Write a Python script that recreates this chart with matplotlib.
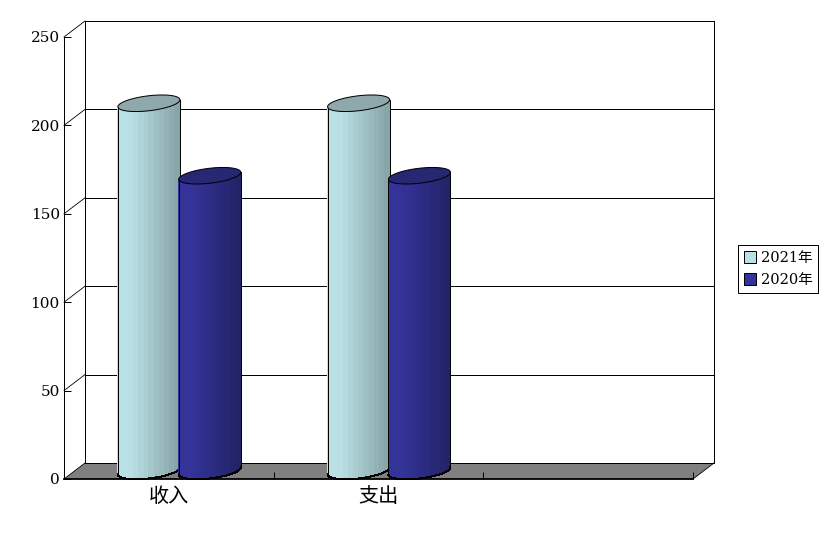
"""
plot.py
Pseudo-3D clustered cylinder chart, saved as out.png
"""

import numpy as np
import matplotlib
matplotlib.use("Agg")
import matplotlib.pyplot as plt
from matplotlib.patches import Patch, Polygon

plt.rcParams["font.family"] = ["DejaVu Serif", "Noto Sans CJK SC"]

# Data
categories = ["收入", "支出", ""]
series_names = ["2021年", "2020年"]
values_2021 = [208, 208]
values_2020 = [167, 167]
y_ticks = [0, 50, 100, 150, 200, 250]

# Scales (pixels per data unit)
W, H = 832, 537
LEFT, RIGHT, BOTTOM, TOP = 64, 693, 479, 37
sx = (RIGHT - LEFT) / len(categories)
sy = (BOTTOM - TOP) / y_ticks[-1]
DEPTH_X, DEPTH_Y = 21 / sx, 16 / sy

# Cylinder shape
half_w = 31 / sx
rise = 3.5 / sy
minor = 7.5 / sy
LIGHT = (np.array([185, 224, 228]), np.array([136, 165, 168]), "#8fa8ac", "#b9e0e4")
DARK = (np.array([51, 51, 153]), np.array([35, 35, 105]), "#272773", "#333399")
LW = 0.72

fig = plt.figure(figsize=(W / 100, H / 100), dpi=100)
ax = fig.add_axes([LEFT / W, 1 - BOTTOM / H, (RIGHT - LEFT) / W, (BOTTOM - TOP) / H])
ax.set_xlim(0, len(categories))
ax.set_ylim(0, y_ticks[-1])
ax.patch.set_visible(False)

line_kw = dict(color="black", lw=LW, clip_on=False, antialiased=False)

# Floor
ax.add_patch(Polygon([(0, 0), (DEPTH_X, DEPTH_Y), (3 + DEPTH_X, DEPTH_Y), (3, 0)],
                     closed=True, fc="#808080", ec="none", clip_on=False, zorder=1))
ax.plot([DEPTH_X, 3 + DEPTH_X], [DEPTH_Y, DEPTH_Y], zorder=1, **line_kw)
ax.plot([0, DEPTH_X], [0, DEPTH_Y], color="black", lw=0.6, clip_on=False, zorder=1)
ax.plot([3, 3 + DEPTH_X], [0, DEPTH_Y], color="black", lw=0.6, clip_on=False, zorder=1)

# Back wall, side wall
for v in y_ticks[1:]:
    ax.plot([DEPTH_X, 3 + DEPTH_X], [v + DEPTH_Y, v + DEPTH_Y], zorder=1, **line_kw)
    ax.plot([0, DEPTH_X], [v, v + DEPTH_Y], color="black", lw=0.6, clip_on=False, zorder=1)
ax.plot([DEPTH_X, DEPTH_X], [DEPTH_Y, y_ticks[-1] + DEPTH_Y], zorder=1, **line_kw)
ax.plot([3 + DEPTH_X, 3 + DEPTH_X], [DEPTH_Y, y_ticks[-1] + DEPTH_Y], zorder=1, **line_kw)


def cylinder(cx, value, colors, z):
    base, shadow, top_color, _ = colors
    cx = cx + DEPTH_X / 2
    y0, y1 = DEPTH_Y / 2, value + DEPTH_Y / 2
    t = np.linspace(np.pi, 2 * np.pi, 181)
    ex = cx + half_w * np.cos(t)
    low = y0 + rise * np.cos(t) + minor * np.sin(t)
    up = y1 + rise * np.cos(t)

    # shaded vertical bands, each painted over the one before it
    n = 12
    for i in range(n):
        frac = i / (n - 1)
        mix = max(0, (frac - 0.2) / 0.8)
        col = (base + (shadow - base) * mix) / 255
        m = ex >= cx - half_w + 2 * half_w * i / n - 1e-9
        pts = list(zip(ex[m], low[m])) + list(zip(ex[m][::-1], up[m][::-1]))
        ax.add_patch(Polygon(pts, closed=True, fc=col, ec="none", clip_on=False, zorder=z,
                             antialiased=False))

    # outline
    ax.plot(ex, low, zorder=z + 0.1, **line_kw)
    ax.plot([ex[0], ex[0]], [low[0], up[0]], zorder=z + 0.1, **line_kw)
    ax.plot([ex[-1], ex[-1]], [low[-1], up[-1]], zorder=z + 0.1, **line_kw)

    # top cap
    t = np.linspace(0, 2 * np.pi, 121)
    cap = np.column_stack([cx + half_w * np.cos(t), y1 + rise * np.cos(t) + minor * np.sin(t)])
    ax.add_patch(Polygon(cap, closed=True, fc=top_color, ec="black", lw=LW, clip_on=False, zorder=z + 0.2))


for i, (a, b) in enumerate(zip(values_2021, values_2020)):
    cylinder(i + 0.355, a, LIGHT, 3 + i * 2)
    cylinder(i + 0.645, b, DARK, 4 + i * 2)

# Axes
for side in ["top", "right"]:
    ax.spines[side].set_visible(False)
ax.spines["left"].set_linewidth(LW)
ax.spines["left"].set_zorder(2)
ax.spines["bottom"].set_linewidth(1.3)
ax.spines["bottom"].set_zorder(2)
ax.set_yticks(y_ticks)
ax.tick_params(axis="y", direction="in", length=5, width=LW, pad=3, labelsize=11)
ax.set_xticks([1, 2, 3])
ax.set_xticklabels([])
ax.tick_params(axis="x", which="major", direction="in", length=5, width=LW)
ax.set_xticks(np.arange(len(categories)) + 0.5, minor=True)
ax.set_xticklabels(categories, minor=True, fontsize=14.5)
ax.tick_params(axis="x", which="minor", length=0, pad=6)

# Legend
handles = [Patch(fc=LIGHT[3], ec="black", lw=LW, label=series_names[0]),
           Patch(fc=DARK[3], ec="black", lw=LW, label=series_names[1])]
leg = ax.legend(handles=handles, loc="upper left", bbox_to_anchor=(738 / W, 1 - 245 / H),
                bbox_transform=fig.transFigure, fontsize=10.5, fancybox=False, framealpha=1,
                edgecolor="black", borderaxespad=0, borderpad=0.4, handlelength=0.85,
                handleheight=0.85, handletextpad=0.3, labelspacing=0.55)
leg.get_frame().set_linewidth(LW)

fig.savefig("out.png", dpi=100)
print("Saved out.png")
